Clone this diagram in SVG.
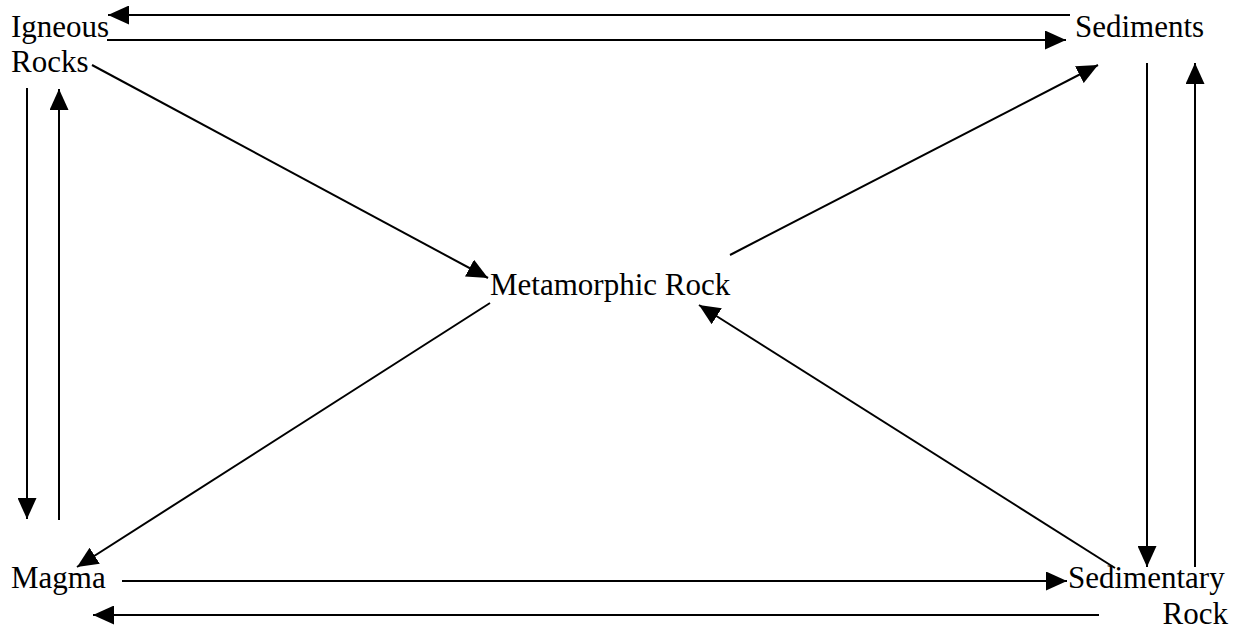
<svg xmlns="http://www.w3.org/2000/svg" width="1240" height="631" viewBox="0 0 1240 631">
<style>
text{font-family:"Liberation Serif","Times New Roman",serif;font-size:31px;fill:#000}
.c line{stroke:#000;stroke-width:2;fill:none;marker-end:url(#ah)}
</style>
<defs>
<marker id="ah" viewBox="0 0 21 19" refX="21" refY="9.5" markerWidth="21" markerHeight="19" markerUnits="userSpaceOnUse" orient="auto">
<path d="M0,0 L21,9.5 L0,19 Z" fill="#000"/>
</marker>
</defs>
<rect width="1240" height="631" fill="#fff"/>
<g id="igneous"><text x="11" y="37">Igneous</text><text x="11" y="72">Rocks</text></g>
<g id="sediments"><text x="1075" y="37">Sediments</text></g>
<g id="metamorphic"><text x="490" y="295">Metamorphic Rock</text></g>
<g id="magma"><text x="11" y="588">Magma</text></g>
<g id="sedimentary"><text x="1068" y="588">Sedimentary</text><text x="1228" y="624" text-anchor="end">Rock</text></g>
<g class="c" id="connectors">
<line x1="1070" y1="15" x2="108" y2="15"/>
<line x1="107" y1="40" x2="1066" y2="40"/>
<line x1="92" y1="65" x2="488" y2="278"/>
<line x1="730" y1="255" x2="1098" y2="65"/>
<line x1="1147" y1="63" x2="1147" y2="567"/>
<line x1="1195" y1="567" x2="1195" y2="63"/>
<line x1="1115" y1="568" x2="699" y2="305"/>
<line x1="490" y1="303" x2="77" y2="567"/>
<line x1="122" y1="581" x2="1067" y2="581"/>
<line x1="1099" y1="615" x2="93" y2="615"/>
<line x1="27" y1="88" x2="27" y2="519"/>
<line x1="59" y1="520" x2="59" y2="89"/>
</g>
</svg>
